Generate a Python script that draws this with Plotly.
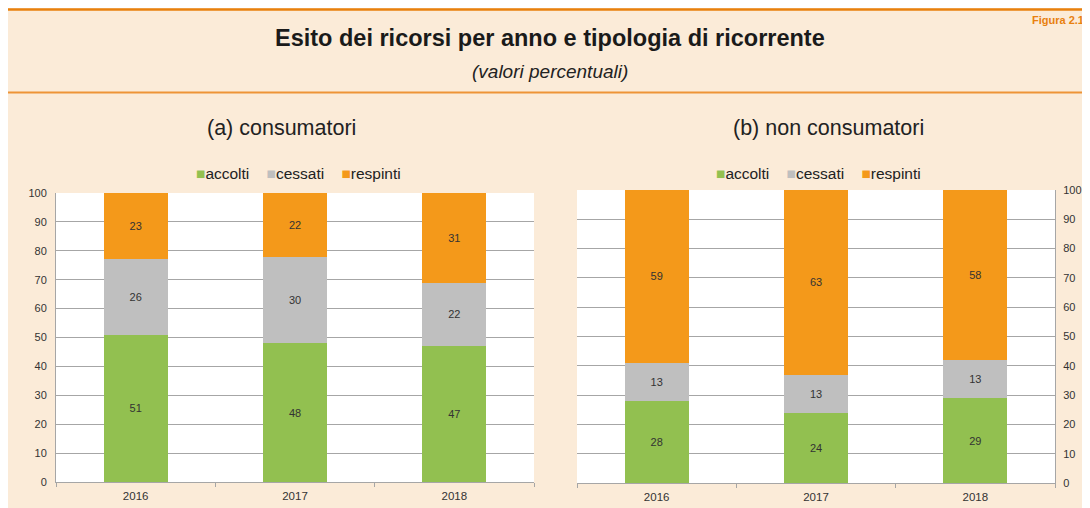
import plotly.graph_objects as go

# The page body adds an 8px margin, so the figure starts at page (8, 8).
W, H = 1082, 500
OFF = 8

years = ["2016", "2017", "2018"]
series_names = ["accolti", "cessati", "respinti"]
consumatori = {
    "accolti": [51, 48, 47],
    "cessati": [26, 30, 22],
    "respinti": [23, 22, 31],
}
non_consumatori = {
    "accolti": [28, 24, 29],
    "cessati": [13, 13, 13],
    "respinti": [59, 63, 58],
}
colors = {"accolti": "#92C050", "cessati": "#BFBFBF", "respinti": "#F4991A"}
y_ticks = list(range(0, 101, 10))

FONT = "Liberation Sans, Arial, sans-serif"
BEIGE = "#FBEBD8"
ORANGE = "#E8800E"


def px_x(p):
    """page pixel x -> paper fraction"""
    return (p - OFF) / W


def px_y(p):
    """page pixel y -> paper fraction"""
    return 1 - (p - OFF) / H


fig = go.Figure()

for data, xa, ya in [
    (consumatori, "x", "y"),
    (non_consumatori, "x2", "y2"),
]:
    for name in series_names:
        fig.add_trace(go.Bar(
            x=years, y=data[name], name=name,
            marker=dict(color=colors[name], line=dict(width=0)),
            width=0.4,
            text=data[name], texttemplate="%{text}",
            textposition="inside", insidetextanchor="middle", textangle=0,
            textfont=dict(size=11, color="#333333", family=FONT),
            xaxis=xa, yaxis=ya, showlegend=False,
            hoverinfo="skip",
        ))

grid = "#A6A6A6"
axis_common = dict(showline=True, linecolor=grid, linewidth=1)
xfont = dict(size=11.5, color="#333333", family=FONT)
yfont = dict(size=11, color="#333333", family=FONT)

fig.update_layout(
    width=W, height=H,
    margin=dict(l=0, r=0, t=0, b=0, autoexpand=False),
    paper_bgcolor=BEIGE,
    plot_bgcolor="white",
    barmode="stack",
    font=dict(family=FONT, color="#222222"),
    xaxis=dict(domain=[px_x(56), px_x(534)], anchor="y", type="category",
               ticks="outside", tickson="boundaries", ticklen=4, tickcolor=grid,
               showgrid=False, tickfont=xfont, ticklabelstandoff=3, **axis_common),
    yaxis=dict(domain=[px_y(482), px_y(193)], anchor="x", range=[0, 100],
               tickvals=y_ticks, showgrid=True, gridcolor=grid, gridwidth=1,
               ticks="", zeroline=False, tickfont=yfont, ticklabelstandoff=6,
               **axis_common),
    xaxis2=dict(domain=[px_x(577), px_x(1055)], anchor="y2", type="category",
                ticks="outside", tickson="boundaries", ticklen=4, tickcolor=grid,
                showgrid=False, tickfont=xfont, ticklabelstandoff=3, **axis_common),
    yaxis2=dict(domain=[px_y(483), px_y(190)], anchor="x2", side="right",
                range=[0, 100], tickvals=y_ticks, showgrid=True, gridcolor=grid,
                gridwidth=1, ticks="", zeroline=False, tickfont=yfont,
                ticklabelstandoff=5, **axis_common),
    bargap=0.6,
)

shapes = [
    dict(type="line", xref="paper", yref="paper", x0=0, x1=1,
         y0=px_y(9.5), y1=px_y(9.5), line=dict(color=ORANGE, width=2.5)),
    dict(type="line", xref="paper", yref="paper", x0=0, x1=1,
         y0=px_y(92.5), y1=px_y(92.5), line=dict(color="#EE9436", width=1.8)),
]
fig.update_layout(shapes=shapes)

# compact legend (coloured square glyph + series name) for each panel
gap = "\u00a0" * 4
legend_text = gap.join(
    f'<span style="color:{colors[n]}">\u25A0</span>{n}' for n in series_names
)

annotations = [
    dict(text="<b>Esito dei ricorsi per anno e tipologia di ricorrente</b>",
         x=px_x(550), y=px_y(38), xref="paper", yref="paper",
         xanchor="center", yanchor="middle", showarrow=False,
         font=dict(size=23.5, color="#1a1a1a", family=FONT)),
    dict(text="<i>(valori percentuali)</i>",
         x=px_x(550), y=px_y(71), xref="paper", yref="paper",
         xanchor="center", yanchor="middle", showarrow=False,
         font=dict(size=19, color="#222222", family=FONT)),
    dict(text="(a) consumatori",
         x=px_x(281.5), y=px_y(128), xref="paper", yref="paper",
         xanchor="center", yanchor="middle", showarrow=False,
         font=dict(size=21.5, color="#222222", family=FONT)),
    dict(text="(b) non consumatori",
         x=px_x(829), y=px_y(128), xref="paper", yref="paper",
         xanchor="center", yanchor="middle", showarrow=False,
         font=dict(size=21.5, color="#222222", family=FONT)),
    dict(text=legend_text,
         x=px_x(298.5), y=px_y(173), xref="paper", yref="paper",
         xanchor="center", yanchor="middle", showarrow=False,
         font=dict(size=15.5, color="#222222", family=FONT)),
    dict(text=legend_text,
         x=px_x(818), y=px_y(173), xref="paper", yref="paper",
         xanchor="center", yanchor="middle", showarrow=False,
         font=dict(size=15.5, color="#222222", family=FONT)),
    dict(text="<b>Figura 2.1</b>",
         x=px_x(1086), y=px_y(12), xref="paper", yref="paper",
         xanchor="right", yanchor="top", showarrow=False,
         font=dict(size=11, color=ORANGE, family=FONT)),
]
fig.update_layout(annotations=annotations)

fig.write_html("out.html")
